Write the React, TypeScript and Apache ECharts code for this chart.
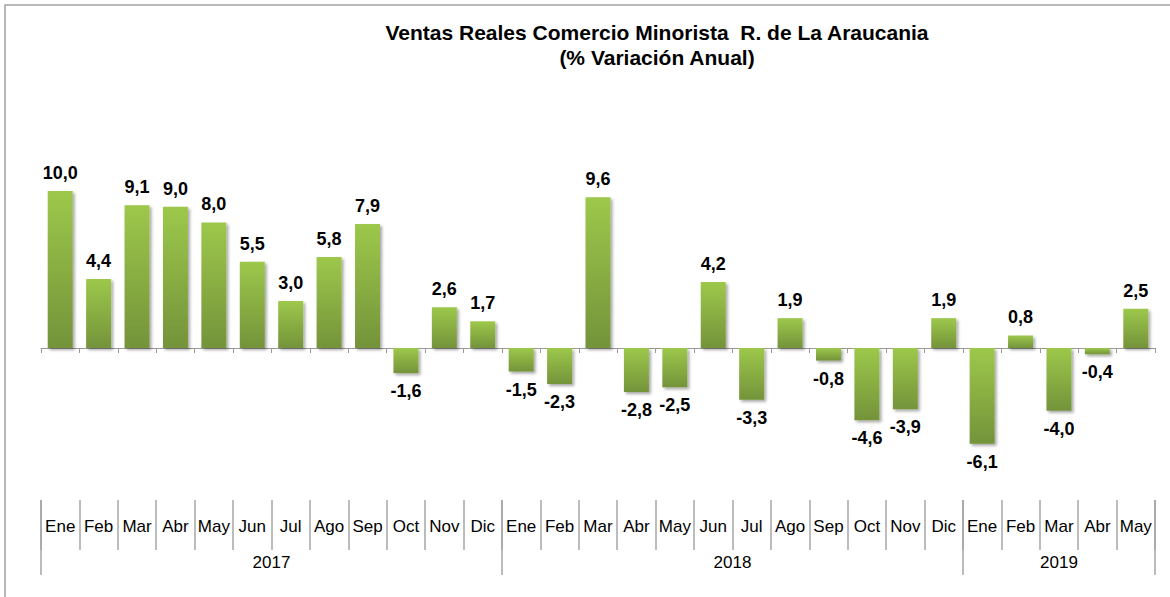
import React, { useEffect, useRef } from "react";
import * as echarts from "echarts";

const months = ["Ene","Feb","Mar","Abr","May","Jun","Jul","Ago","Sep","Oct","Nov","Dic","Ene","Feb","Mar","Abr","May","Jun","Jul","Ago","Sep","Oct","Nov","Dic","Ene","Feb","Mar","Abr","May"];
const values = [10.0,4.4,9.1,9.0,8.0,5.5,3.0,5.8,7.9,-1.6,2.6,1.7,-1.5,-2.3,9.6,-2.8,-2.5,4.2,-3.3,1.9,-0.8,-4.6,-3.9,1.9,-6.1,0.8,-4.0,-0.4,2.5];
const years = ["2017","2018","2019"];
const yearCounts = [12,12,5];

const FONT = "'Liberation Sans', Arial, sans-serif";

export default function App() {
  const ref = useRef<HTMLDivElement>(null);
  useEffect(() => {
    if (!ref.current) return;
    const chart = echarts.init(ref.current, null, { renderer: "svg" });
    const total = months.length;
    const bounds: number[] = [0];
    const centers: number[] = [];
    let acc = 0;
    yearCounts.forEach((c) => {
      centers.push(acc + c / 2);
      acc += c;
      bounds.push(acc);
    });
    const yearAt = (v: number) => {
      const i = centers.findIndex((c) => Math.abs(c - v) < 1e-6);
      return i >= 0 ? years[i] : "";
    };
    const grad = new echarts.graphic.LinearGradient(0, 0, 0, 1, [
      { offset: 0, color: "#9dc84b" },
      { offset: 1, color: "#74933a" },
    ]);
    const data = values.map((v) => ({
      value: v,
      label: { position: v >= 0 ? "top" : "bottom" },
    }));
    const gridBottomY = 473.6;
    chart.setOption({
      animation: false,
      backgroundColor: "#fff",
      title: {
        text: "Ventas Reales Comercio Minorista  R. de La Araucania\n(% Variación Anual)",
        left: 652,
        top: 15,
        textAlign: "center",
        textStyle: { fontFamily: FONT, fontSize: 21, fontWeight: "bold", color: "#000", lineHeight: 25 },
      },
      graphic: [
        {
          type: "rect",
          shape: { x: 5, y: 5, width: 1300, height: 800 },
          style: { fill: "none", stroke: "#a3a3a3", lineWidth: 1.5 },
          silent: true,
        },
      ],
      grid: { left: 41, right: 15, top: 159.6, bottom: 597 - gridBottomY },
      xAxis: [
        {
          type: "category",
          data: months,
          axisLine: { onZero: true, lineStyle: { color: "#9a9a9a", width: 1 } },
          axisTick: { show: true, length: 5, lineStyle: { color: "#9a9a9a" } },
          axisLabel: { show: false },
          splitLine: { show: false },
        },
        {
          type: "category",
          data: months,
          position: "bottom",
          offset: 500 - gridBottomY,
          axisLine: { show: false },
          axisTick: { show: true, length: 50, lineStyle: { color: "#a6a6a6", width: 1.5 } },
          axisLabel: { show: true, margin: 18, fontFamily: FONT, fontSize: 17, color: "#000", interval: 0 },
          splitLine: { show: false },
        },
        {
          type: "value",
          min: 0,
          max: total,
          position: "bottom",
          offset: 500 - gridBottomY,
          axisLine: { show: false },
          axisTick: { show: true, length: 75, customValues: bounds, lineStyle: { color: "#a6a6a6", width: 1.5 } },
          axisLabel: {
            show: true,
            customValues: centers,
            margin: 54,
            fontFamily: FONT,
            fontSize: 17,
            color: "#000",
            formatter: (v: number) => yearAt(v),
          },
          splitLine: { show: false },
        },
      ],
      yAxis: {
        type: "value",
        min: -8,
        max: 12,
        show: false,
        splitLine: { show: false },
      },
      series: [
        {
          type: "bar",
          xAxisIndex: 0,
          yAxisIndex: 0,
          data,
          barWidth: "65%",
          itemStyle: {
            color: grad,
            shadowColor: "rgba(0,0,0,0.35)",
            shadowBlur: 3,
            shadowOffsetX: 2,
            shadowOffsetY: 2,
          },
          label: {
            show: true,
            distance: 9,
            fontFamily: FONT,
            fontSize: 18,
            fontWeight: "bold",
            color: "#000",
            formatter: (p: any) => p.value.toFixed(1).replace(".", ","),
          },
        },
      ],
    });
    return () => chart.dispose();
  }, []);
  return (
    <div
      ref={ref}
      style={{ position: "absolute", left: 0, top: 0, width: 1170, height: 597 }}
    />
  );
}
